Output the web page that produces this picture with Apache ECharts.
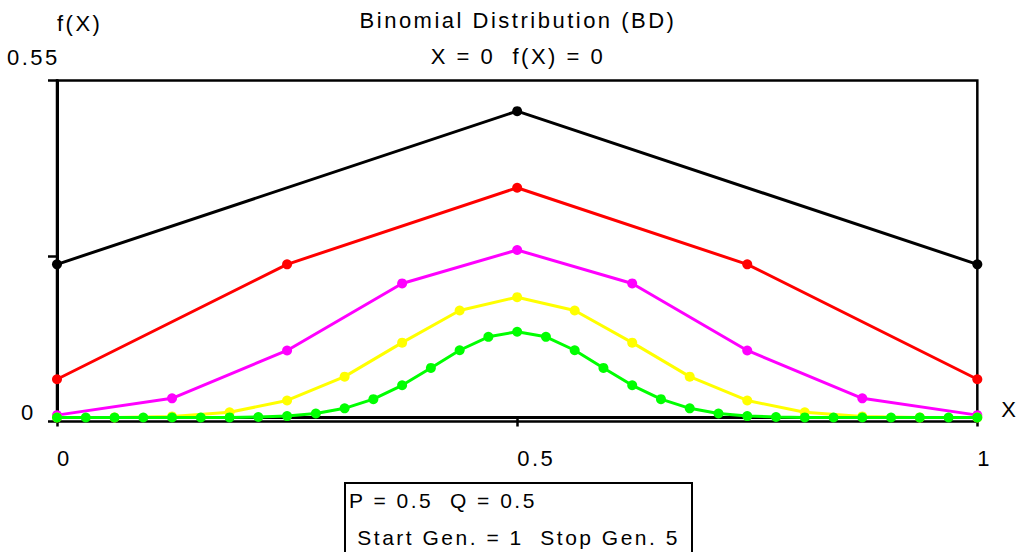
<!DOCTYPE html>
<html>
<head>
<meta charset="utf-8">
<script src="https://cdn.jsdelivr.net/npm/echarts@6/dist/echarts.min.js"></script>
<style>
html, body { margin: 0; padding: 0; background: #fff; }
#main { width: 1019px; height: 552px; letter-spacing: 2.5px; }
</style>
</head>
<body>
<div id="main"></div>
<script>
// x positions per generation
var xGen1 = [0, 0.5, 1]
var xGen2 = [0, 0.25, 0.5, 0.75, 1]
var xGen3 = [0, 0.125, 0.25, 0.375, 0.5, 0.625, 0.75, 0.875, 1]
var xGen4 = [0, 0.0625, 0.125, 0.1875, 0.25, 0.3125, 0.375, 0.4375, 0.5,
  0.5625, 0.625, 0.6875, 0.75, 0.8125, 0.875, 0.9375, 1]
var xGen5 = [0, 0.03125, 0.0625, 0.09375, 0.125, 0.15625, 0.1875, 0.21875, 0.25,
  0.28125, 0.3125, 0.34375, 0.375, 0.40625, 0.4375, 0.46875, 0.5,
  0.53125, 0.5625, 0.59375, 0.625, 0.65625, 0.6875, 0.71875, 0.75,
  0.78125, 0.8125, 0.84375, 0.875, 0.90625, 0.9375, 0.96875, 1]

// f(X) per generation
var yGen1 = [0.25, 0.5, 0.25]
var yGen2 = [0.0625, 0.25, 0.375, 0.25, 0.0625]
var yGen3 = [0.0039, 0.0313, 0.1094, 0.2188, 0.2734, 0.2188, 0.1094, 0.0313, 0.0039]
var yGen4 = [0, 0.0002, 0.0018, 0.0085, 0.0278, 0.0667, 0.1222, 0.1746, 0.1964,
  0.1746, 0.1222, 0.0667, 0.0278, 0.0085, 0.0018, 0.0002, 0]
var yGen5 = [0, 0, 0, 0, 0, 0, 0.0002, 0.0008, 0.0024, 0.0065, 0.0150, 0.0300, 0.0526,
  0.0809, 0.1098, 0.1317, 0.1400, 0.1317, 0.1098, 0.0809, 0.0526, 0.0300,
  0.0150, 0.0065, 0.0024, 0.0008, 0.0002, 0, 0, 0, 0, 0, 0]

var genColors = ['#000000', '#ff0000', '#ff00ff', '#ffff00', '#00ff00']

// y axis ticks and their labels
var yTickValues = [-0.0065, 0.2625, 0.55]
var yTickLabels = ['0', '', '0.55']

var FONT = '"Liberation Sans", Arial, Helvetica, sans-serif'

function pairs(xs, ys) {
  return xs.map(function (x, i) { return [x, ys[i]] })
}

var xs = [xGen1, xGen2, xGen3, xGen4, xGen5]
var ys = [yGen1, yGen2, yGen3, yGen4, yGen5]
var series = xs.map(function (x, i) {
  return {
    type: 'line',
    data: pairs(x, ys[i]),
    symbol: 'circle',
    symbolSize: 10,
    color: genColors[i],
    lineStyle: { width: 3, color: genColors[i] },
    itemStyle: { color: genColors[i] },
    z: 2 + i
  }
})

var myChart = echarts.init(document.getElementById('main'), null, { renderer: 'svg' })

var option = {
  animation: false,
  backgroundColor: '#fff',
  textStyle: { fontFamily: FONT },
  grid: {
    left: 57, right: 41.5, top: 80.5, bottom: 130.5,
    show: true, borderColor: '#000', borderWidth: 2.5, backgroundColor: 'transparent'
  },
  xAxis: {
    type: 'value', min: 0, max: 1, interval: 0.5,
    name: 'X', nameLocation: 'end', nameGap: 24,
    nameTextStyle: { color: '#000', fontSize: 22, fontFamily: FONT, align: 'left', verticalAlign: 'bottom', lineHeight: 16 },
    axisLine: { lineStyle: { color: '#000', width: 3 } },
    axisTick: { length: 9, lineStyle: { color: '#000', width: 2.5 } },
    axisLabel: { color: '#000', fontSize: 22, fontFamily: FONT, align: 'left', margin: 26 },
    splitLine: { show: false }
  },
  yAxis: {
    type: 'value', min: -0.0065, max: 0.55,
    name: 'f(X)', nameLocation: 'end', nameGap: 57,
    nameTextStyle: { color: '#000', fontSize: 22, fontFamily: FONT, align: 'left', verticalAlign: 'middle' },
    axisLine: { lineStyle: { color: '#000', width: 3 } },
    axisTick: { length: 9, customValues: yTickValues, lineStyle: { color: '#000', width: 2.5 } },
    axisLabel: { show: false },
    splitLine: { show: false }
  },
  series: series
}
myChart.setOption(option)

// tick labels placed next to their tick, title texts and info box
var yTop = myChart.convertToPixel({ yAxisIndex: 0 }, yTickValues[2])
var yBot = myChart.convertToPixel({ yAxisIndex: 0 }, yTickValues[0])
var txt = function (text, x, y, size, align) {
  return {
    type: 'text', x: x, y: y, silent: true,
    style: { text: text, fill: '#000', font: size + 'px ' + FONT, align: align || 'left', verticalAlign: 'middle' }
  }
}
myChart.setOption({
  graphic: [
    txt(yTickLabels[2], 7, yTop - 23, 22),
    txt(yTickLabels[0], 21, yBot - 9, 22),
    txt('Binomial Distribution (BD)', 518, 20, 22, 'center'),
    txt('X = 0  f(X) = 0', 518, 56, 22, 'center'),
    {
      type: 'rect', silent: true,
      shape: { x: 345, y: 483, width: 347, height: 100 },
      style: { fill: '#fff', stroke: '#000', lineWidth: 2 }
    },
    txt('P = 0.5  Q = 0.5', 349, 500, 21),
    txt(' Start Gen. = 1  Stop Gen. 5', 349, 537, 21)
  ]
})
</script>
</body>
</html>
